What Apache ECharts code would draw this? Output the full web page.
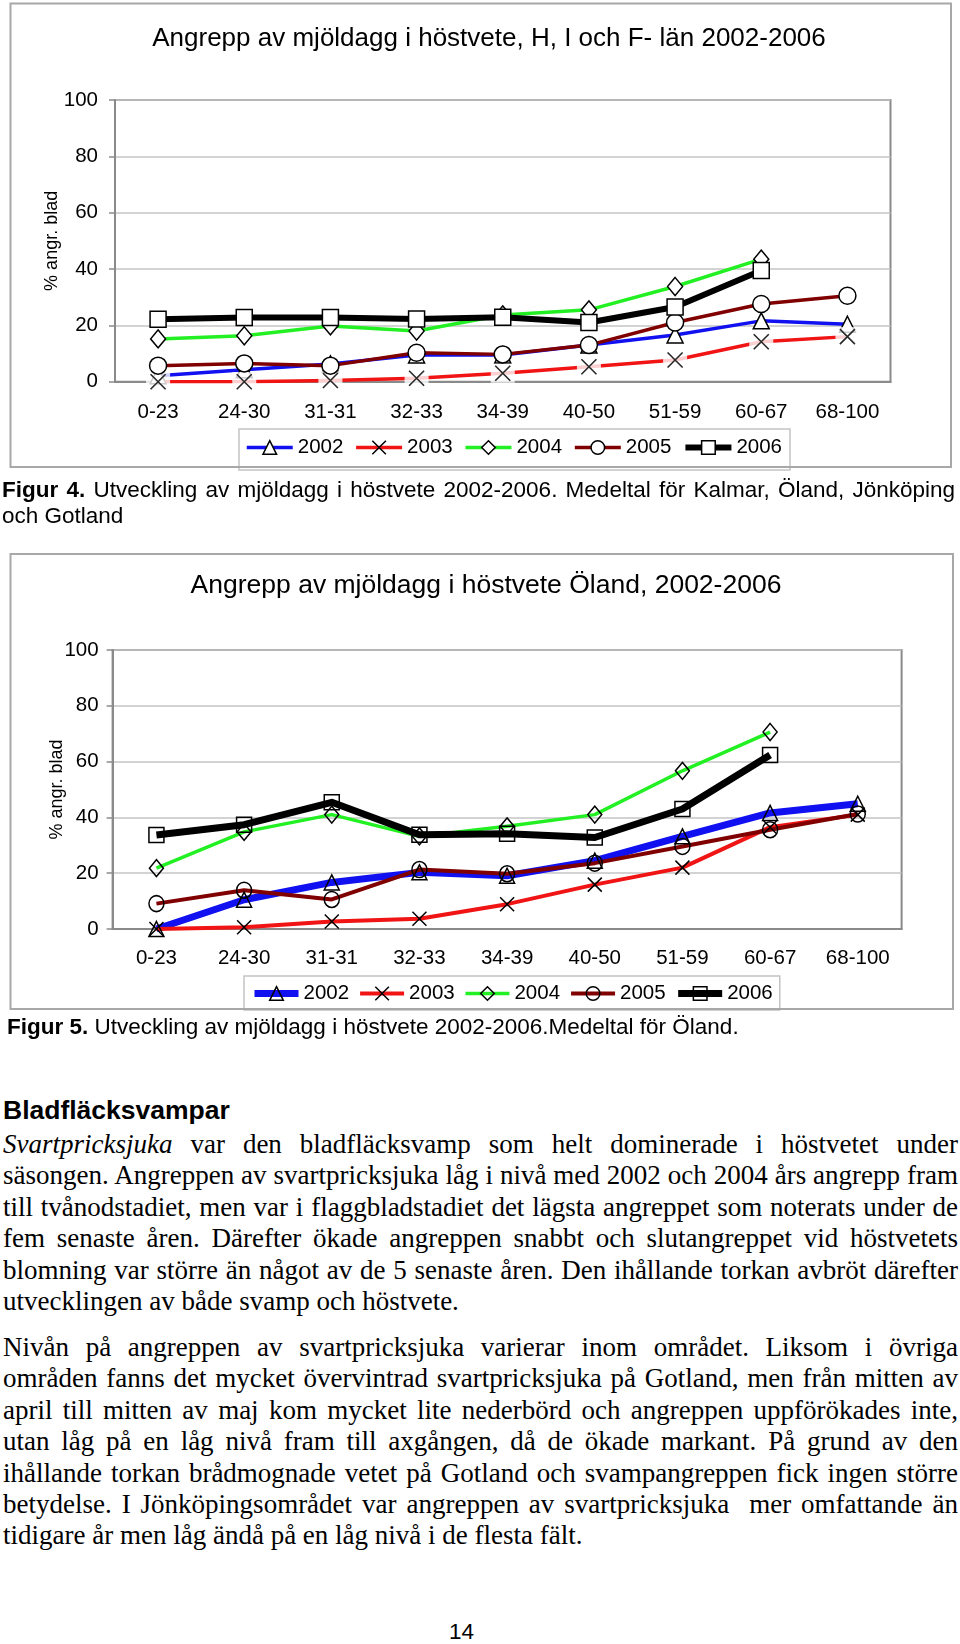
<!DOCTYPE html>
<html>
<head>
<meta charset="utf-8">
<script src="https://cdn.jsdelivr.net/npm/echarts@6/dist/echarts.min.js"></script>
<style>
html,body{margin:0;padding:0;background:#fff;}
body{width:960px;height:1644px;position:relative;overflow:hidden;font-family:"Liberation Sans",Arial,sans-serif;color:#000;}
#c1{position:absolute;left:0;top:0;width:960px;height:500px;}
#c2{position:absolute;left:0;top:540px;width:960px;height:480px;}
.cap{position:absolute;font-size:22.5px;line-height:26px;white-space:nowrap;}
.j{text-align:justify;text-align-last:justify;}
.head{position:absolute;left:3px;font-weight:bold;font-size:26.5px;line-height:30px;white-space:nowrap;}
.txt{position:absolute;left:3px;width:955px;font-family:"Liberation Serif","Times New Roman",serif;font-size:27px;line-height:31.4px;}
.txt div{text-align:justify;text-align-last:justify;}
.txt div.last{text-align-last:left;}
.pg{position:absolute;left:449px;top:1619px;font-size:22.5px;line-height:26px;}
</style>
</head>
<body>
<div id="c1"></div>
<div id="c2"></div>

<div class="cap" style="left:2px;top:477px;width:953px;">
  <div class="j"><b>Figur 4.</b> Utveckling av mjöldagg i höstvete 2002-2006. Medeltal för Kalmar, Öland, Jönköping</div>
  <div>och Gotland</div>
</div>
<div class="cap" style="left:7px;top:1014px;"><b>Figur 5.</b> Utveckling av mjöldagg i höstvete 2002-2006.Medeltal för Öland.</div>

<div class="head" style="top:1095px;">Bladfläcksvampar</div>

<div class="txt" style="top:1129px;">
  <div><i>Svartpricksjuka</i> var den bladfläcksvamp som helt dominerade i höstvetet under</div>
  <div>säsongen. Angreppen av svartpricksjuka låg i nivå med 2002 och 2004 års angrepp fram</div>
  <div>till tvånodstadiet, men var i flaggbladstadiet det lägsta angreppet som noterats under de</div>
  <div>fem senaste åren. Därefter ökade angreppen snabbt och slutangreppet vid höstvetets</div>
  <div>blomning var större än något av de 5 senaste åren. Den ihållande torkan avbröt därefter</div>
  <div class="last">utvecklingen av både svamp och höstvete.</div>
</div>
<div class="txt" style="top:1332px;">
  <div>Nivån på angreppen av svartpricksjuka varierar inom området. Liksom i övriga</div>
  <div>områden fanns det mycket övervintrad svartpricksjuka på Gotland, men från mitten av</div>
  <div>april till mitten av maj kom mycket lite nederbörd och angreppen uppförökades inte,</div>
  <div>utan låg på en låg nivå fram till axgången, då de ökade markant. På grund av den</div>
  <div>ihållande torkan brådmognade vetet på Gotland och svampangreppen fick ingen större</div>
  <div>betydelse. I Jönköpingsområdet var angreppen av svartpricksjuka&nbsp; mer omfattande än</div>
  <div class="last">tidigare år men låg ändå på en låg nivå i de flesta fält.</div>
</div>
<div class="pg">14</div>

<script>
// ---- data ----
const categories = ['0-23','24-30','31-31','32-33','34-39','40-50','51-59','60-67','68-100'];
const years = ['2002','2003','2004','2005','2006'];
const yMin = 0, yMax = 100, yStep = 20;

const title1 = 'Angrepp av mjöldagg i höstvete, H, I och F- län 2002-2006';
const hif2002 = [2.1, 4.2, 6.3, 9.5, 9.5, 13.0, 16.6, 21.6, 20.4];
const hif2003 = [0, 0, 0.4, 1.2, 3.0, 5.3, 7.7, 14.2, 16.0];
const hif2004 = [15.2, 16.3, 19.8, 18.0, 23.7, 25.5, 33.8, 43.5, null];
const hif2005 = [5.7, 6.5, 5.7, 10.3, 9.7, 13.0, 21.0, 27.6, 30.5];
const hif2006 = [22.2, 22.8, 22.8, 22.3, 22.9, 21.0, 26.5, 39.5, null];

const title2 = 'Angrepp av mjöldagg i höstvete Öland, 2002-2006';
const ol2002 = [0, 10.5, 16.7, 20.3, 19.1, 24.5, 33.2, 41.6, 44.9];
const ol2003 = [0, 0.6, 2.7, 3.7, 8.9, 15.9, 22.0, 36.5, 41.0];
const ol2004 = [21.8, 34.8, 41.0, 33.2, 36.8, 41.0, 56.7, 70.6, null];
const ol2005 = [9.1, 13.9, 10.6, 21.3, 19.8, 23.6, 29.6, 35.6, 41.2];
const ol2006 = [33.7, 37.4, 45.4, 33.8, 34.1, 32.8, 43.0, 62.4, null];

const yName = '% angr. blad';

// ---- styling ----
const FONT = '"Liberation Sans", Arial, sans-serif';
const XPATH = 'path://M0,0L10,10M10,0L0,10';
const symbols = ['triangle', XPATH, 'diamond', 'circle', 'rect'];
const colors = ['#1010f0', '#f01414', '#22f022', '#800000', '#000000'];

function buildOption(cfg) {
  const series = cfg.data.map((d, i) => ({
    name: years[i],
    type: 'line',
    data: d,
    symbol: symbols[i],
    symbolSize: cfg.symSize[i],
    showAllSymbol: true,
    lineStyle: {color: colors[i], width: cfg.widths[i], join: 'round'},
    itemStyle: {color: cfg.fill, borderColor: '#000', borderWidth: 1.5},
    emphasis: {disabled: true},
    z: (cfg.gap != null && i > cfg.gap) ? 5 : 2
  }));
  if (cfg.gap != null) {
    const d = cfg.data[cfg.gap];
    series.push({
      type: 'scatter', data: d, symbol: 'rect', symbolSize: [24, 19],
      itemStyle: {color: '#ffffff'}, silent: true, z: 3, emphasis: {disabled: true}
    });
    series.push({
      type: 'scatter', data: d, symbol: XPATH, symbolSize: cfg.symSize[cfg.gap],
      itemStyle: {color: '#ffffff', borderColor: '#000', borderWidth: 1.5},
      silent: true, z: 4, emphasis: {disabled: true}
    });
  }
  const legendData = years.map((y, i) => ({
    name: y,
    lineStyle: {width: cfg.widths[i], color: colors[i]},
    itemStyle: {borderWidth: 1.5, borderColor: '#000'}
  }));
  return {
    animation: false,
    graphic: [
      {type: 'rect', shape: cfg.frame, style: {fill: 'none', stroke: '#a8a8a8', lineWidth: 2}, z: 10},
      {type: 'text', x: cfg.titlePos[0], y: cfg.titlePos[1],
       style: {text: cfg.title, font: cfg.titleSize + 'px ' + FONT, fill: '#000', align: 'center', verticalAlign: 'middle'}}
    ],
    grid: Object.assign({show: true, borderColor: '#8a8a8a', borderWidth: 2, backgroundColor: 'transparent', containLabel: false}, cfg.grid),
    xAxis: {
      type: 'category', data: categories, boundaryGap: true,
      axisTick: {show: false},
      axisLine: {show: true, lineStyle: {color: '#8a8a8a', width: 2}},
      axisLabel: {color: '#000', fontFamily: FONT, fontSize: 20.5, margin: cfg.xMargin, interval: 0},
      splitLine: {show: false}
    },
    yAxis: {
      type: 'value', min: yMin, max: yMax, interval: yStep,
      name: yName, nameLocation: 'middle', nameGap: cfg.nameGap, nameMoveOverlap: false,
      nameTextStyle: {color: '#000', fontFamily: FONT, fontSize: 18},
      axisLine: {show: true, lineStyle: {color: '#8a8a8a', width: 2}},
      axisTick: {show: true, length: 6, lineStyle: {color: '#8a8a8a', width: 1.5}},
      axisLabel: {color: '#000', fontFamily: FONT, fontSize: 20.5, margin: cfg.yMargin},
      splitLine: {show: true, lineStyle: {color: '#c4c4c4', width: 1.5}}
    },
    legend: Object.assign({
      orient: 'horizontal', data: legendData,
      itemHeight: 17, borderColor: '#c4c4c4', borderWidth: 1.5, backgroundColor: '#fff',
      textStyle: {color: '#000', fontFamily: FONT, fontSize: 20.5},
      selectedMode: false
    }, cfg.legend),
    series: series
  };
}

const chart1 = echarts.init(document.getElementById('c1'));
chart1.setOption(buildOption({
  title: title1, titlePos: [489, 39], titleSize: 26,
  frame: {x: 10.5, y: 3.5, width: 940.5, height: 463.5},
  grid: {left: 115, top: 100, width: 775.5, height: 281.7},
  xMargin: 20, yMargin: 17, nameGap: 54,
  legend: {left: 239, top: 429, itemWidth: 46, itemGap: 11, padding: [8, 8, 12, 6]},
  data: [hif2002, hif2003, hif2004, hif2005, hif2006],
  symSize: [16, 15, [15, 18], 17, 16],
  widths: [3.5, 3.5, 3.5, 3.5, 6],
  fill: '#ffffff',
  gap: 1
}));

const chart2 = echarts.init(document.getElementById('c2'));
chart2.setOption(buildOption({
  title: title2, titlePos: [486, 46], titleSize: 26.5,
  frame: {x: 10.5, y: 14, width: 942.5, height: 455},
  grid: {left: 112.6, top: 110, width: 789, height: 279},
  xMargin: 18.5, yMargin: 14, nameGap: 47,
  legend: {left: 244, top: 436, itemWidth: 44, itemGap: 9, padding: [7, 7, 6, 7]},
  data: [ol2002, ol2003, ol2004, ol2005, ol2006],
  symSize: [15, 14, [14, 17], [15, 16], 15],
  widths: [7, 4, 3.5, 4, 7],
  fill: 'rgba(255,255,255,0)',
  gap: null
}));
</script>
</body>
</html>
